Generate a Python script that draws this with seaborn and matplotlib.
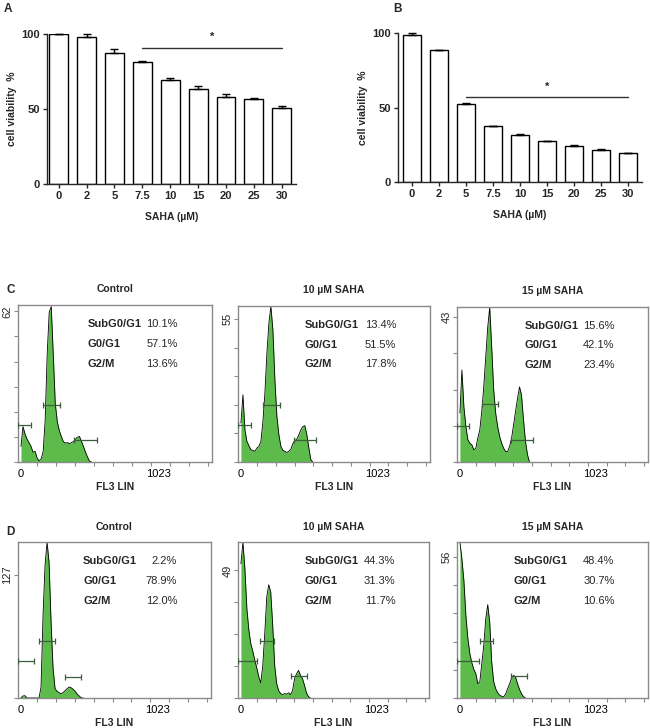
import numpy as np
import pandas as pd
import matplotlib
matplotlib.use("Agg")
import matplotlib.pyplot as plt
import seaborn as sns

# ---------------- data ----------------
conc_labels = ["0", "2", "5", "7.5", "10", "15", "20", "25", "30"]
viab_A = [100.0, 97.8, 87.1, 81.3, 69.5, 63.3, 57.7, 57.0, 50.6]
err_A = [0.0, 2.2, 2.9, 0.7, 1.1, 2.2, 2.0, 0.5, 1.1]
viab_B = [98.4, 88.6, 52.5, 37.5, 31.7, 27.5, 24.3, 21.7, 19.4]
err_B = [1.5, 0.3, 0.3, 0.4, 0.3, 0.3, 0.3, 0.3, 0.3]
sig_A = (3, 8, 91.0, 98.0)   # start bar, end bar, line level, star level
sig_B = (2, 8, 57.1, 63.6)

titles = ["Control", "10 \u00b5M SAHA", "15 \u00b5M SAHA"]
phase_names = ["SubG0/G1", "G0/G1", "G2/M"]
pct_C = [["10.1%", "57.1%", "13.6%"], ["13.4%", "51.5%", "17.8%"], ["15.6%", "42.1%", "23.4%"]]
pct_D = [["2.2%", "78.9%", "12.0%"], ["44.3%", "31.3%", "11.7%"], ["48.4%", "30.7%", "10.6%"]]

bin_width = 15  # FL3 LIN channels per histogram bin
hist_C1 = [6.4, 14.6, 11.6, 9.4, 8.0, 6.4, 4.0, 4.4, 1.6, 0.5, 1.2, 4.4, 17.3, 44.6, 61.6, 64.0,
           44.6, 24.1, 16.6, 12.9, 10.5, 8.4, 7.8, 8.0, 7.5, 8.0, 8.4, 9.4, 10.2, 10.5, 8.4, 6.4,
           4.0, 2.0, 0.3, 0.0]
hist_C2 = [15.0, 25.9, 12.4, 7.9, 6.3, 4.7, 4.5, 4.1, 5.4, 6.0, 7.9, 15.6, 26.5, 41.9, 53.5, 60.0,
           50.9, 31.7, 17.6, 10.5, 6.0, 4.5, 4.1, 3.7, 4.1, 5.0, 7.1, 8.3, 8.8, 10.5, 12.4, 13.7,
           14.0, 10.5, 5.4, 0.9, 0.0]
hist_C3 = [14.5, 27.3, 16.4, 10.5, 6.6, 5.6, 5.1, 3.6, 4.1, 7.1, 9.5, 15.0, 22.3, 31.2, 40.0, 46.0,
           34.1, 21.4, 14.5, 10.5, 7.6, 5.6, 4.1, 3.1, 3.1, 4.6, 7.1, 11.0, 15.0, 18.9, 22.3, 19.9,
           12.5, 6.1, 2.2, 0.0]
hist_D1 = [0.0, 2.1, 2.4, 0.0, 0.0, 0.0, 0.0, 0.0, 0.0, 0.0, 11.3, 85.1, 136.6, 160.6, 140.0, 78.2,
           30.2, 9.6, 6.9, 5.5, 4.5, 5.5, 7.6, 9.6, 11.3, 10.6, 8.9, 6.9, 4.1, 2.1, 0.3, 0.0]
hist_D2 = [51.5, 59.9, 49.6, 34.3, 26.0, 20.8, 17.9, 14.5, 11.5, 8.1, 5.8, 12.5, 24.7, 38.8, 43.5,
           40.7, 27.9, 12.5, 5.5, 2.8, 1.7, 1.3, 1.7, 1.5, 2.0, 1.3, 2.9, 7.4, 9.3, 10.6, 8.7, 7.4,
           4.9, 2.0, 0.5, 0.0]
hist_D3 = [62.0, 55.3, 46.7, 32.8, 23.6, 17.6, 14.0, 11.4, 9.7, 5.7, 6.4, 13.6, 20.9, 31.5, 37.1,
           30.2, 14.3, 6.4, 3.7, 2.1, 1.1, 0.7, 0.4, 1.6, 3.7, 5.7, 7.9, 9.0, 8.3, 5.7, 3.4, 1.7,
           0.5, 0.0]
hists = [hist_C1, hist_C2, hist_C3, hist_D1, hist_D2, hist_D3]
y_max = [62, 55, 43, 127, 49, 56]
y_nticks = [6, 5, 4, 1, 4, 5]
y_top = [64.6, 60.1, 46.0, 160.6, 59.9, 62.0]
# gates: (x0, x1, height) for SubG0/G1, G0/G1, G2/M
gates = [
    [(-20, 72, 15.1), (167, 292, 23.3), (392, 567, 9.0)],
    [(-20, 72, 14.2), (167, 292, 22.1), (397, 567, 8.5)],
    [(-20, 71, 10.8), (164, 287, 17.1), (385, 551, 6.5)],
    [(-19, 97, 38.4), (133, 254, 59.0), (327, 448, 22.0)],
    [(-20, 120, 14.2), (145, 250, 22.0), (380, 502, 8.3)],
    [(-25, 141, 14.7), (148, 252, 22.8), (383, 506, 8.6)],
]

# ---------------- style ----------------
sns.set_style("ticks")
plt.rcParams["font.family"] = ["Liberation Sans", "DejaVu Sans"]
plt.rcParams["axes.linewidth"] = 1.0

fig = plt.figure(figsize=(6.5, 7.28), dpi=100)
W, H = 650.0, 728.0


def ax_px(l, t, r, b):
    return fig.add_axes([l / W, 1 - b / H, (r - l) / W, (b - t) / H])


def bar_panel(ax, vals, errs, sig, letter_xy, letter):
    df = pd.DataFrame({"conc": conc_labels, "val": vals})
    sns.barplot(data=df, x="conc", y="val", order=conc_labels, color="white",
                saturation=1, edgecolor="black", linewidth=1.0, width=0.68, ax=ax, errorbar=None)
    xs = np.arange(len(vals))
    ax.errorbar(xs, vals, yerr=[np.zeros(len(errs)), errs], fmt="none", ecolor="black",
                elinewidth=1.0, capsize=3, capthick=1.0, clip_on=False, zorder=5)
    ax.set_ylim(0, 100)
    ax.set_yticks([0, 50, 100])
    sns.despine(ax=ax)
    ax.tick_params(axis="both", labelsize=8, length=3, width=1, pad=2)
    for lab in ax.get_xticklabels() + ax.get_yticklabels():
        lab.set_fontweight("bold")
    ax.set_xlabel("SAHA (\u00b5M)", fontsize=7.5, fontweight="bold", labelpad=8)
    ax.set_ylabel("cell viability  %", fontsize=7.5, fontweight="bold", labelpad=3)
    s0, s1, ly, sy = sig
    ax.plot([s0, s1], [ly, ly], color="#333333", lw=1.0, clip_on=False)
    ax.text((s0 + s1) / 2, sy, "*", ha="center", va="center", fontsize=8, fontweight="bold")
    fig.text(letter_xy[0] / W, 1 - letter_xy[1] / H, letter, fontsize=8.5, fontweight="bold",
             ha="left", va="center")


axA = ax_px(47, 34, 296, 184)
bar_panel(axA, viab_A, err_A, sig_A, (4, 9), "A")
axA.set_xlim(-0.42, 8.51)

axB = ax_px(398, 33, 642, 182)
bar_panel(axB, viab_B, err_B, sig_B, (393, 9), "B")
axB.set_xlim(-0.52, 8.52)

# ---------------- flow histograms ----------------
green = "#5cbb4a"
frame_col = "#8a8a8a"
gate_col = "#3d5e3d"
boxes = [
    (18, 305, 212, 462), (238, 306, 430, 462), (457, 307, 648, 462),
    (18, 542, 211, 698), (238, 542, 429, 698), (457, 542, 648, 698),
]
text_left = [0.357, 0.348, 0.354, 0.338, 0.347, 0.296]
text_right = 0.825

for i, (box, counts) in enumerate(zip(boxes, hists)):
    ax = ax_px(*box)
    x = np.arange(len(counts)) * bin_width
    c = np.array(counts)
    ax.fill_between(x, 0, c, color=green, lw=0, zorder=1)
    sns.lineplot(x=x, y=c, color="black", lw=0.6, ax=ax, zorder=2)
    for (g0, g1, gh) in gates[i]:
        ax.plot([g0, g1], [gh, gh], color=gate_col, lw=0.9, marker="|", ms=4, mew=0.9, zorder=3)
    ax.set_xlim(-22, 1420)
    ax.set_ylim(0, y_top[i])
    for sp in ax.spines.values():
        sp.set_visible(True)
        sp.set_color(frame_col)
        sp.set_linewidth(1.0)
    ax.set_xticks([0, 1023])
    ax.set_xticklabels(["0", "1023"], fontsize=8)
    ax.set_xticks(121 + 141 * np.arange(10), minor=True)
    ax.tick_params(axis="x", which="major", length=0, pad=5, colors="black")
    ax.tick_params(axis="x", which="minor", length=3, width=0.8, color=frame_col)
    yt = np.linspace(0, y_max[i], y_nticks[i] + 1)
    ax.set_yticks(yt)
    ax.set_yticklabels([""] * (len(yt) - 1) + [str(y_max[i])], fontsize=8, rotation=90, va="center")
    ax.tick_params(axis="y", length=3, width=0.8, color=frame_col, pad=1)
    ax.set_xlabel("FL3 LIN", fontsize=7.5, fontweight="bold", labelpad=2)
    ax.set_ylabel("")
    ax.set_title(titles[i % 3], fontsize=7.5, fontweight="bold", pad=9)
    pcts = pct_C[i] if i < 3 else pct_D[i - 3]
    ys = [0.88, 0.753, 0.627] if i < 3 else [0.876, 0.748, 0.622]
    for name, p, yy in zip(phase_names, pcts, ys):
        ax.text(text_left[i], yy, name, transform=ax.transAxes, fontsize=8, fontweight="bold",
                ha="left", va="center")
        ax.text(text_right, yy, p, transform=ax.transAxes, fontsize=8, ha="right", va="center")

fig.text(6 / W, 1 - 290 / H, "C", fontsize=8.5, fontweight="bold", ha="left", va="center")
fig.text(6 / W, 1 - 532 / H, "D", fontsize=8.5, fontweight="bold", ha="left", va="center")

fig.savefig("out.png", dpi=100)
